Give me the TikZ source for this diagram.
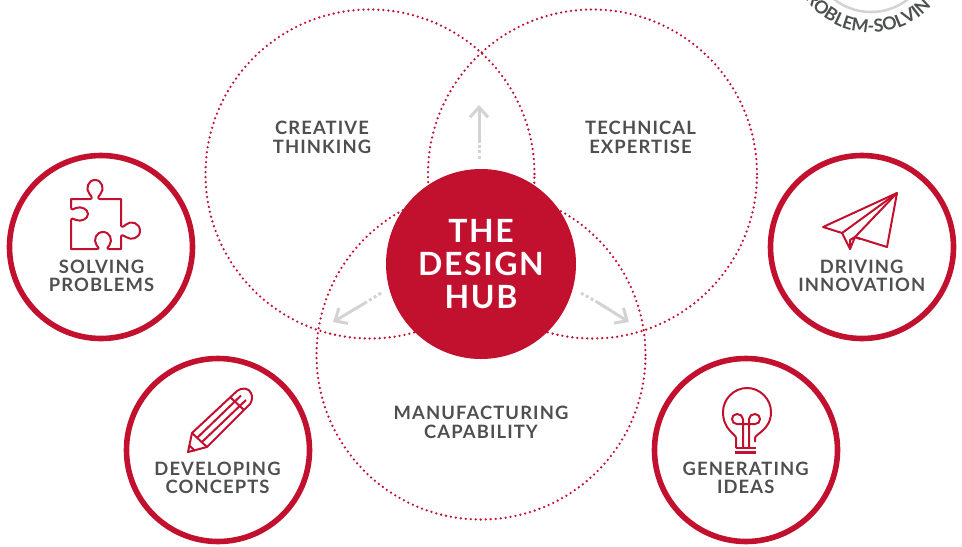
\documentclass[tikz,border=0pt]{standalone}
\usepackage{fontspec}
\usepackage{tikz}
\usetikzlibrary{arrows.meta,decorations.text}
\setmainfont{Lato}
\newfontfamily\labelfont[LetterSpace=6]{Lato}
\newfontfamily\hubfont[LetterSpace=5]{Lato}
\definecolor{hubred}{HTML}{C2102F}
\definecolor{labelgrey}{HTML}{4D4F50}
\definecolor{arrowgrey}{HTML}{D3D3D3}

\begin{document}
\begin{tikzpicture}[
        x=0.75pt,
        y=-0.75pt,
        venn/.style={circle, draw=hubred, line width=1.9pt, line cap=round, dash pattern=on 0pt off 3.75pt, minimum size=246.75pt, inner sep=0pt},
        badge/.style={circle, draw=hubred, line width=4.2pt, minimum size=137.25pt, inner sep=0pt},
        label/.style={align=center, inner sep=0pt, text=labelgrey, font=\labelfont\bfseries\fontsize{13.8pt}{14pt}\selectfont},
        icon/.style={draw=hubred, line width=1.5pt, line join=round},
        arrow/.style={-{Straight Barb[length=7.5pt,width=13.5pt]}, arrowgrey, line width=2.25pt},
        dots/.style={arrowgrey, line width=2.25pt, dash pattern=on 2.25pt off 1.9pt}
    ]
    \clip (0,0) rectangle (962,546);

    % Partial badge, top right
    \node[circle, draw=arrowgrey, line width=1.9pt, minimum size=90pt, inner sep=0pt] (problem) at (871,-48) {};
    \path[decorate, decoration={text along path, text align={fit to path}, text={|\labelfont\bfseries\fontsize{13.4pt}{14pt}\selectfont\color{labelgrey}|ROBLEM-SOLVIN}}]
        ([shift={(215:60.5pt)}]problem.center) arc[start angle=215, end angle=316, radius=60.5pt];

    % Three overlapping fields
    \node[venn] (creative) at (370,174) {};
    \node[venn] (technical) at (592.5,174) {};
    \node[venn] (manufacturing) at (481,355) {};

    \node[label] (creativetxt) at (322,137.5) {CREATIVE\\THINKING};
    \node[label] (technicaltxt) at (640.5,137.5) {TECHNICAL\\EXPERTISE};
    \node[label] (manufacturingtxt) at (481,422.5) {MANUFACTURING\\CAPABILITY};

    % Grey arrows out of the hub
    \coordinate (upstart) at (479,159);
    \coordinate (upgap) at (479,142);
    \coordinate (uptip) at (479,105);
    \coordinate (leftstart) at (381,293);
    \coordinate (leftgap) at (365,303);
    \coordinate (lefttip) at (333,322);
    \coordinate (rightstart) at (581,293);
    \coordinate (rightgap) at (597,302);
    \coordinate (righttip) at (629,322);
    \draw[dots] (upstart) -- (upgap);
    \draw[arrow] (upgap) -- (uptip);
    \draw[dots] (leftstart) -- (leftgap);
    \draw[arrow] (leftgap) -- (lefttip);
    \draw[dots] (rightstart) -- (rightgap);
    \draw[arrow] (rightgap) -- (righttip);

    % Hub
    \node[circle, fill=hubred, minimum size=142.5pt, inner sep=0pt] (hub) at (481,264) {};
    \node[align=center, inner sep=0pt, text=white, font=\hubfont\bfseries\fontsize{24pt}{25pt}\selectfont] (hubtxt) at (481,264) {THE\\DESIGN\\HUB};

    % Outer badges
    \node[badge] (solving) at (101,247) {};
    \node[badge] (developing) at (218,450) {};
    \node[badge] (driving) at (862,247) {};
    \node[badge] (generating) at (746,450) {};

    \node[label] (solvingtxt) at (101.5,276) {SOLVING\\PROBLEMS};
    \node[label] (developingtxt) at (217.5,478) {DEVELOPING\\CONCEPTS};
    \node[label] (drivingtxt) at (861.7,276) {DRIVING\\INNOVATION};
    \node[label] (generatingtxt) at (745.7,478) {GENERATING\\IDEAS};

    % Puzzle piece
    \draw[icon] (71,199) -- (90,199) .. controls (93,199) and (91.5,196) .. (89.5,194)
        .. controls (85,189) and (88,180) .. (95,180) .. controls (102,180) and (105,189) .. (100.5,194)
        .. controls (98.5,196) and (97,199) .. (100,199) -- (121,199) -- (121,225)
        .. controls (121,228) and (124,226.5) .. (126,224.5) .. controls (131,220) and (140,223) .. (140,231)
        .. controls (140,238) and (131,241) .. (126,237) .. controls (124,235.5) and (121,234) .. (121,237)
        -- (121,249) -- (109,249) .. controls (106,249) and (108,247) .. (109.5,245)
        .. controls (113,240) and (110,232) .. (103,232) .. controls (96,232) and (93,240) .. (96.5,245)
        .. controls (98,247) and (100,249) .. (97,249) -- (71,249) -- (71,221)
        .. controls (71,217) and (74,219) .. (76,220) .. controls (81,222) and (88,219) .. (88,214)
        .. controls (88,209) and (81,206) .. (76,208) .. controls (74,209) and (71,211) .. (71,207) -- cycle;

    % Pencil
    \draw[icon] (192,433) -- (237,391) .. controls (242,387) and (249,388) .. (251,393)
        .. controls (253,397) and (252,401) .. (250,404) -- (207,447) -- (188,452) -- cycle;
    \draw[icon] (192,433) -- (207,447);
    \draw[icon] (197,438) -- (241,395.5);
    \draw[icon] (202,442) -- (246,400);
    \draw[icon] (230,397) -- (244,410);
    \draw[icon] (189,445) -- (195,451);

    % Paper plane
    \draw[icon] (897,193) -- (823,227) -- (842,233) -- (850,249) -- (855,237) -- (887,247) -- cycle;
    \draw[icon] (897,193) -- (842,233);
    \draw[icon] (897,193) -- (855,237);
    \draw[icon] (855,237) -- (860,239);
    \draw[icon] (855,237) -- (850,240) -- (850,249);

    % Light bulb
    \draw[icon] (736,448) -- (736,438) .. controls (736,434) and (723,430) .. (723,412)
        .. controls (723,399) and (734,388) .. (747,388) .. controls (760,388) and (771,399) .. (771,412)
        .. controls (771,430) and (755,434) .. (755,438) -- (755,442);
    \draw[icon] (743,448) -- (743,419) .. controls (743,416) and (740,414) .. (737,414)
        .. controls (734,414) and (732,416.5) .. (732,419) .. controls (732,422) and (734,424) .. (737,424)
        -- (755,424) .. controls (758,424) and (760,422) .. (760,419) .. controls (760,416.5) and (758,414) .. (755,414)
        .. controls (752,414) and (749,416) .. (749,419) -- (749,448);
    \draw[icon] (736,448) -- (756,448);
    \draw[hubred, line width=2.4pt] (735,452.5) -- (756,452.5);

\end{tikzpicture}
\end{document}
